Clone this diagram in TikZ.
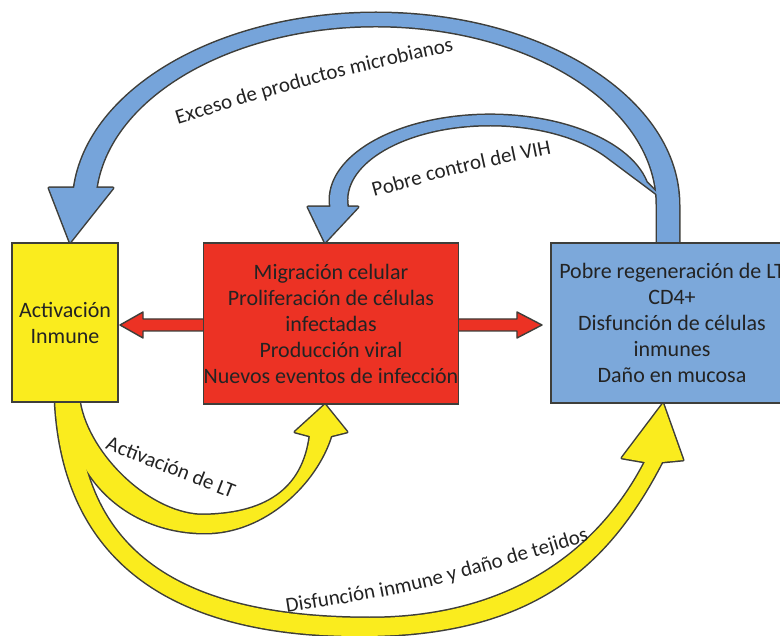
\documentclass[tikz,border=0pt]{standalone}
\usepackage{fontspec}
\setmainfont{Carlito}
\usetikzlibrary{calc,decorations.text}
\definecolor{immyellow}{RGB}{250,236,30}
\definecolor{virred}{RGB}{236,50,36}
\definecolor{cdblue}{RGB}{124,168,218}
\definecolor{flowblue}{RGB}{118,164,218}
\definecolor{rimgray}{RGB}{62,62,58}
\definecolor{inkgray}{RGB}{35,35,35}

\pgfdeclarelayer{paper}
\pgfdeclarelayer{flow}
\pgfsetlayers{paper,flow,main}

\newcommand\boxfont{\fontsize{22}{26}\selectfont}
\newcommand\arcfont{\fontsize{21}{25}\selectfont}

% block arrows in pixel units, y grows downwards
\newcommand\arrowA{(679,250) -- (679,205)
  arc[start angle=0, end angle=-174.92, x radius=303, y radius=192]
  -- (49,188) -- (tipA) -- (113,188) -- (96.3,188)
  arc[start angle=-174.55, end angle=0, x radius=281, y radius=179]
  -- (657,250) -- cycle}
\newcommand\arrowB{(662,198) -- (646.5,182.3)
  arc[start angle=-12, end angle=-184.7, x radius=160, y radius=85]
  -- (308,207) -- (tipB) -- (358,207) -- (347.6,207)
  arc[start angle=-185.36, end angle=-35, x radius=143, y radius=75]
  -- cycle}
\newcommand\arrowC{(66,398) .. controls (68,480) and (130,533) .. (205,533)
  .. controls (265,533) and (316,483.5) .. (331,436)
  -- (347,432) -- (tipC) -- (295,432) -- (310,436)
  .. controls (303,490) and (265,515) .. (200,515)
  .. controls (145,512) and (85,450) .. (79,398) -- cycle}
\newcommand\arrowD{(55,398) .. controls (62,560) and (170,636) .. (360,636)
  .. controls (530,636) and (606.8,568.8) .. (662,462)
  -- (683,460) -- (tipD) -- (622,458) -- (645,462)
  .. controls (599,551) and (510,618) .. (370,618)
  .. controls (180,618) and (78,552) .. (77,398) -- cycle}

\begin{document}
\begin{tikzpicture}[
    x=1pt,
    y=-1pt,
    box/.style={draw=rimgray,line width=1.4pt,inner sep=0pt,align=center,font=\boxfont,text=inkgray},
    rim/.style={draw=rimgray,line width=3pt,line join=round},
    redarr/.style={draw=rimgray,line width=1.4pt,fill=virred,line join=round},
    arclabel/.style={decorate,decoration={text along path,text align=center,text color=inkgray,text={#1}}}
]
  \begin{pgfonlayer}{paper}
    \fill[white] (0,0) rectangle (780,636);
  \end{pgfonlayer}
  \useasboundingbox (0,0) rectangle (780,636);

  \node[box,fill=immyellow,minimum width=106pt,minimum height=159pt] (yel) at (65,322.5)
    {Activación\\Inmune};
  \node[box,fill=virred,minimum width=252pt,minimum height=161pt] (red) at (331,323.5)
    {Migración celular\\Proliferación de células\\infectadas\\Producción viral\\Nuevos eventos de infección};
  \node[box,fill=cdblue,minimum width=242pt,minimum height=160pt] (blu) at (672,323)
    {Pobre regeneración de LT\\CD4+\\Disfunción de células\\inmunes\\Daño en mucosa};

  \coordinate (tipA) at ($(yel.north)+(5,0)$);
  \coordinate (tipB) at ($(red.north)+(-6,0)$);
  \coordinate (tipC) at ($(red.south)+(-6,0)$);
  \coordinate (tipD) at ($(blu.south)+(-9,0)$);

  \begin{pgfonlayer}{flow}
    % outlines first, then fills, so touching arrows merge
    \draw[rim] \arrowA;
    \draw[rim] \arrowB;
    \fill[flowblue] \arrowA;
    \fill[flowblue] \arrowB;
    \draw[rim] \arrowC;
    \draw[rim] \arrowD;
    \fill[immyellow] \arrowC;
    \fill[immyellow] \arrowD;

    \draw[redarr] ($(red.west)+(5,-4.5)$) -- ++(-65,0) -- ++(0,-7) -- ++(-23,13)
      -- ++(23,13) -- ++(0,-7) -- ++(65,0) -- cycle;
    \draw[redarr] ($(red.east)+(-5,-4.5)$) -- ++(63,0) -- ++(0,-7) -- ++(25,13)
      -- ++(-25,13) -- ++(0,-7) -- ++(-63,0) -- cycle;
  \end{pgfonlayer}

  \path[arclabel={|\arcfont|Exceso de productos microbianos}]
    (160,130) .. controls (314.5,82) .. (472,47);
  \path[arclabel={|\arcfont|Pobre control del VIH}]
    (360,201) .. controls (462,172) .. (566,151);
  \node[font=\arcfont,text=inkgray,rotate=-21.4,inner sep=0pt] (ltlabel) at (171,467)
    {Activación de LT};
  \path[arclabel={|\arcfont|Disfunción inmune y daño de tejidos}]
    (265,616) .. controls (420,592) .. (610,534);
\end{tikzpicture}
\end{document}
